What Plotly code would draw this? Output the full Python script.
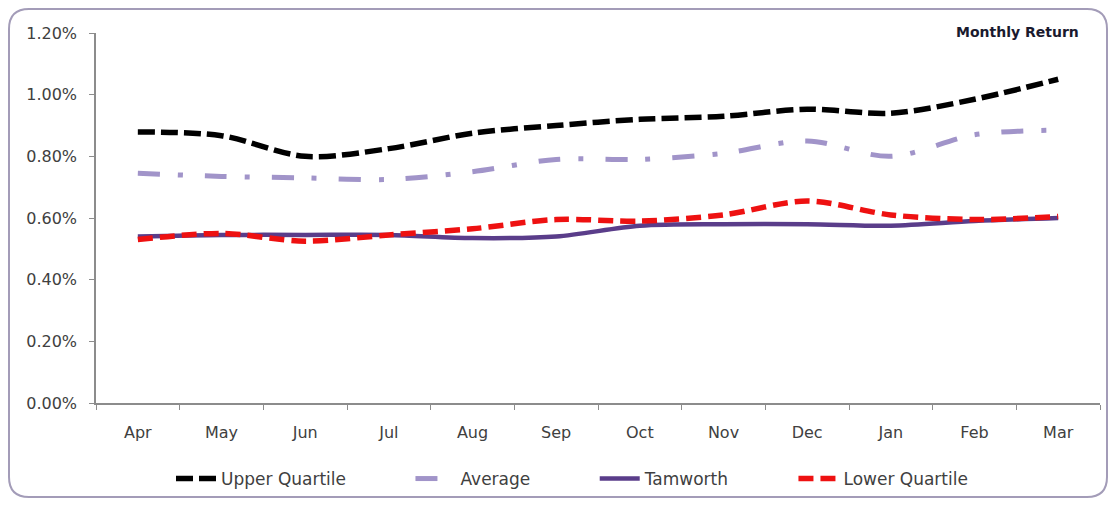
import plotly.graph_objects as go

months = ["Apr", "May", "Jun", "Jul", "Aug", "Sep", "Oct", "Nov", "Dec", "Jan", "Feb", "Mar"]
upper_quartile = [0.879, 0.867, 0.800, 0.825, 0.875, 0.900, 0.920, 0.930, 0.953, 0.940, 0.985, 1.050]
average = [0.745, 0.735, 0.730, 0.725, 0.750, 0.790, 0.790, 0.810, 0.850, 0.800, 0.870, 0.885]
tamworth = [0.540, 0.545, 0.545, 0.545, 0.535, 0.540, 0.575, 0.580, 0.580, 0.575, 0.590, 0.600]
lower_quartile = [0.530, 0.550, 0.525, 0.545, 0.565, 0.595, 0.590, 0.610, 0.655, 0.610, 0.595, 0.605]
y_ticks = [0.0, 0.2, 0.4, 0.6, 0.8, 1.0, 1.2]

# page body has an 8px margin; the figure is sized to fit the remaining viewport
OFF = 8
W, H = 1100, 490
L, R, T, B = 96 - OFF, 8, 33 - OFF, 95
FONT = "DejaVu Sans"
PAD = "\u00a0" * 11

fig = go.Figure()
fig.add_trace(go.Scatter(x=months, y=upper_quartile, name="Upper Quartile" + PAD, mode="lines",
                         line=dict(color="black", width=5.5, dash="17px,6px", shape="spline",
                                   smoothing=0.9)))
fig.add_trace(go.Scatter(x=months, y=average, name="Average" + PAD, mode="lines",
                         line=dict(color="#a194c9", width=5, dash="22px,18px,5px,22px",
                                   shape="spline", smoothing=0.9)))
fig.add_trace(go.Scatter(x=months, y=tamworth, name="Tamworth" + PAD, mode="lines",
                         line=dict(color="#5a3d8a", width=4.5, shape="spline", smoothing=0.9)))
fig.add_trace(go.Scatter(x=months, y=lower_quartile, name="Lower Quartile", mode="lines",
                         line=dict(color="#ee1111", width=5.5, dash="15px,7px", shape="spline",
                                   smoothing=0.9)))


def px_x(p):
    return (p - OFF - L) / (W - L - R)


def px_y(p):
    return (H - B - (p - OFF)) / (H - T - B)


# rounded outer frame (screen pixel coordinates)
x0, x1, y0, y1, r = 9, 1107, 9, 497, 20
path = (f"M {px_x(x0 + r)},{px_y(y0)} L {px_x(x1 - r)},{px_y(y0)} "
        f"Q {px_x(x1)},{px_y(y0)} {px_x(x1)},{px_y(y0 + r)} "
        f"L {px_x(x1)},{px_y(y1 - r)} Q {px_x(x1)},{px_y(y1)} {px_x(x1 - r)},{px_y(y1)} "
        f"L {px_x(x0 + r)},{px_y(y1)} Q {px_x(x0)},{px_y(y1)} {px_x(x0)},{px_y(y1 - r)} "
        f"L {px_x(x0)},{px_y(y0 + r)} Q {px_x(x0)},{px_y(y0)} {px_x(x0 + r)},{px_y(y0)} Z")
fig.add_shape(type="path", path=path, xref="paper", yref="paper",
              line=dict(color="#a39cb8", width=2), layer="below")

fig.add_annotation(text="<b>Monthly Return</b>", xref="paper", yref="paper",
                   x=px_x(1081), y=px_y(32), xanchor="right", yanchor="middle",
                   showarrow=False, font=dict(family=FONT, size=14, color="#1a1a2e"))

fig.update_layout(
    width=W, height=H,
    margin=dict(l=L, r=R, t=T, b=B, autoexpand=False),
    paper_bgcolor="white", plot_bgcolor="white",
    font=dict(family=FONT, size=16, color="#404040"),
    showlegend=True,
    legend=dict(orientation="h", x=px_x(572), xanchor="center", y=px_y(479), yanchor="middle",
                bgcolor="rgba(0,0,0,0)",
                font=dict(family=FONT, size=17, color="#404040"),
                itemwidth=40, tracegroupgap=0),
)
fig.update_xaxes(type="category", range=[-0.5, 11.5], showline=True, linecolor="#8c8c8c",
                 linewidth=1.5, ticks="outside", tickson="boundaries", ticklen=5,
                 tickcolor="#8c8c8c", showgrid=False, zeroline=False, ticklabelstandoff=14,
                 tickfont=dict(family=FONT, size=16, color="#404040"))
fig.update_yaxes(range=[0, 1.2], tickvals=y_ticks, ticktext=[f"{v:.2f}%" for v in y_ticks],
                 showline=True, linecolor="#8c8c8c", linewidth=1.5, ticks="outside",
                 ticklen=5, tickcolor="#8c8c8c", showgrid=False, zeroline=False,
                 ticklabelstandoff=9,
                 tickfont=dict(family=FONT, size=16, color="#404040"))

fig.write_html("out.html")
